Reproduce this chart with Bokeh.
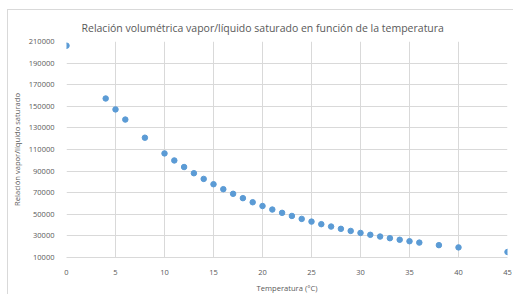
from bokeh.plotting import figure
from bokeh.models import FixedTicker, BasicTickFormatter, Range1d, Title
from bokeh.embed import file_html
from bokeh.resources import INLINE

# Data (temperature in °C, vapor/liquid specific volume ratio)
temperatura = [0, 4, 5, 6, 8, 10, 11, 12, 13, 14, 15, 16, 17, 18, 19, 20, 21, 22, 23, 24,
               25, 26, 27, 28, 29, 30, 31, 32, 33, 34, 35, 36, 38, 40, 45]
relacion = [206140, 157232, 147120, 137734, 120917, 106380, 99847, 93775, 88036, 82765,
            77848, 73260, 68975, 64973, 61170, 57676, 54405, 51344, 48477, 45746,
            43230, 40871, 38658, 36544, 34595, 32763, 31010, 29393, 27872, 26413,
            25066, 23797, 21452, 19368, 15107]
x_ticks = [0, 5, 10, 15, 20, 25, 30, 35, 40, 45]
y_ticks = [10000, 30000, 50000, 70000, 90000, 110000, 130000, 150000, 170000, 190000, 210000]

title_text = "Relación volumétrica vapor/líquido saturado en función de la temperatura"
FONT = "Open Sans"
GRAY = "#595959"
GRID = "#d9d9d9"

p = figure(width=506, height=285, output_backend="svg", toolbar_location=None,
           x_range=Range1d(0, 45), y_range=Range1d(10000, 210000),
           min_border_left=55, min_border_right=7, min_border_top=31, min_border_bottom=38,
           background_fill_color="white", border_fill_color="white",
           styles={"margin-left": "7px", "margin-top": "9px",
                   "border-left": "1px solid #d9d9d9", "border-top": "1px solid #d9d9d9"})
p.title = None
t = Title(text=title_text, align="left", offset=15, standoff=13, text_font=FONT,
          text_font_size="10.5px", text_font_style="normal", text_color=GRAY)
p.add_layout(t, "above")

p.scatter(temperatura, relacion, size=5.5, color="#5b9bd5", line_color="#5b9bd5")

p.outline_line_color = None
p.xaxis.ticker = FixedTicker(ticks=x_ticks)
p.yaxis.ticker = FixedTicker(ticks=y_ticks)
p.yaxis.formatter = BasicTickFormatter(use_scientific=False)
p.xgrid.ticker = FixedTicker(ticks=x_ticks)
p.ygrid.ticker = FixedTicker(ticks=y_ticks)
p.grid.grid_line_color = GRID
p.grid.grid_line_width = 1

for ax in (p.xaxis[0], p.yaxis[0]):
    ax.major_tick_line_color = None
    ax.minor_tick_line_color = None
    ax.major_label_text_font = FONT
    ax.major_label_text_font_size = "7.5px"
    ax.major_label_text_color = GRAY
    ax.axis_label_text_font = FONT
    ax.axis_label_text_font_size = "7.6px"
    ax.axis_label_text_font_style = "normal"
    ax.axis_label_text_color = GRAY
p.xaxis.axis_line_color = GRID
p.yaxis.axis_line_color = None
p.xaxis.major_label_standoff = 6
p.yaxis.major_label_standoff = 6
p.xaxis.axis_label = "Temperatura (°C)"
p.yaxis.axis_label = "Relación vapor/líquido saturado"
p.xaxis.axis_label_standoff = 5
p.yaxis.axis_label_standoff = 4

open("out.html", "w").write(file_html(p, INLINE))
